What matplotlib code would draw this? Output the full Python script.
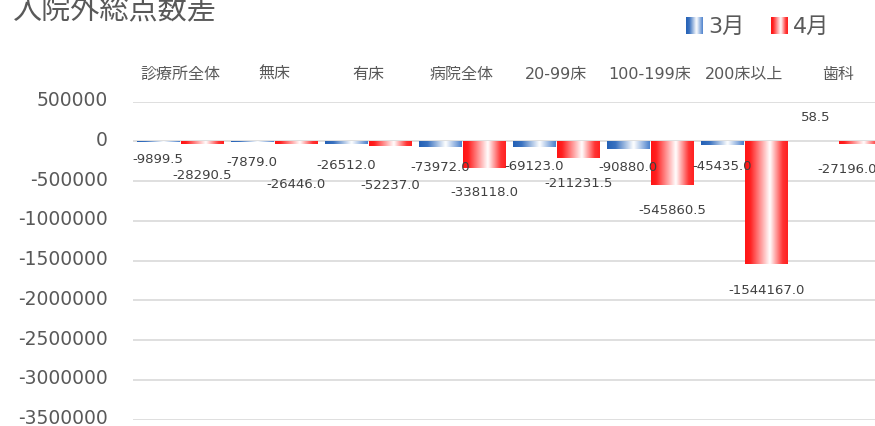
import numpy as np
import matplotlib.pyplot as plt
import matplotlib.transforms as mtransforms
from matplotlib.colors import LinearSegmentedColormap

plt.rcParams['font.family'] = ['DejaVu Sans', 'Noto Sans CJK JP']

categories = ['診療所全体', '無床', '有床', '病院全体', '20-99床', '100-199床', '200床以上', '歯科']
march = [-9899.5, -7879.0, -26512.0, -73972.0, -69123.0, -90880.0, -45435.0, 58.5]
april = [-28290.5, -26446.0, -52237.0, -338118.0, -211231.5, -545860.5, -1544167.0, -27196.0]
series_names = ['3月', '4月']
yticks = np.arange(-3500000, 500001, 500000)

# distance of each value label from its bar end, in points (negative = above)
march_offsets = [12, 14, 15, 14, 13.5, 12.5, 15, -18]
april_offsets = [22, 29, 28, 17, 17.5, 18, 18, 18]
# sideways nudge (points) so the last label stays inside the chart
april_xshift = [0, 0, 0, 0, 0, 0, 0, -9]

text_color = '#595959'

# horizontal colour -> white -> colour fills for the bars
blue_cmap = LinearSegmentedColormap.from_list(
    'blue_grad', [(0, '#2360b5'), (0.2, '#3a72c0'), (0.62, '#ffffff'), (1, '#4a80cc')])
red_cmap = LinearSegmentedColormap.from_list(
    'red_grad', [(0, '#ff1414'), (0.12, '#ff2020'), (0.58, '#ffffff'), (0.88, '#ff3434'), (1, '#ff2020')])
grad = np.linspace(0, 1, 256).reshape(1, -1)

fig = plt.figure(figsize=(8.75, 4.27), dpi=100)
ax = fig.add_axes([133 / 875, 1 - 420.7 / 427, 752 / 875, 318 / 427])

x = np.arange(len(categories))
width = 0.447
shift = 0.235


def gradient_bars(xpos, vals, cmap):
    bars = ax.bar(xpos, vals, width, color='none', linewidth=0, zorder=3)
    for rect in bars:
        x0, y0 = rect.get_x(), rect.get_y()
        im = ax.imshow(grad, cmap=cmap, extent=(x0, x0 + rect.get_width(), y0, y0 + rect.get_height()),
                       aspect='auto', interpolation='bicubic', zorder=3)
        im.set_clip_path(rect)
    return bars


gradient_bars(x - shift, march, blue_cmap)
gradient_bars(x + shift, april, red_cmap)

# value labels under (or over) the bar ends
for xpos, vals, offs, dx in ((x - shift, march, march_offsets, [0] * len(march)),
                             (x + shift, april, april_offsets, april_xshift)):
    for xi, v, off, d in zip(xpos, vals, offs, dx):
        ax.annotate('%.1f' % v, xy=(xi, v), xytext=(d, -off), textcoords='offset points',
                    ha='center', va='center', fontsize=9.5, color='#404040', zorder=4,
                    annotation_clip=False)

ax.set_xlim(-0.5, len(categories) - 0.5)
ax.set_ylim(yticks[0], yticks[-1])
ax.set_yticks(yticks)
ax.set_yticklabels(['%d' % t for t in yticks])
ax.set_xticks(x)
ax.set_xticklabels(categories)
ax.xaxis.tick_top()
ax.tick_params(axis='x', length=0, pad=15, labelsize=11.5, labelcolor=text_color)
ax.tick_params(axis='y', length=0, pad=18, labelsize=13.5, labelcolor=text_color)

# axis numbers sit a little above their gridlines
lift = mtransforms.ScaledTranslation(0, 4 / 100, fig.dpi_scale_trans)
for lbl in ax.get_yticklabels():
    lbl.set_transform(lbl.get_transform() + lift)

ax.grid(axis='y', color='#d9d9d9', linewidth=1.2, zorder=0)
ax.set_axisbelow(True)
for s in ax.spines.values():
    s.set_visible(False)

fig.text(13 / 875, 1 - 11 / 427, '入院外総点数差', fontsize=21, color=text_color, ha='left', va='center')

# legend with the same gradient swatches
for px, cmap, name in ((686, blue_cmap, series_names[0]), (771, red_cmap, series_names[1])):
    lax = fig.add_axes([px / 875, 1 - 35 / 427, 17 / 875, 17 / 427])
    lax.imshow(grad, cmap=cmap, aspect='auto', interpolation='bicubic')
    lax.axis('off')
    fig.text((px + 22) / 875, 1 - 26.5 / 427, name, fontsize=16, color=text_color, ha='left', va='center')

fig.savefig('out.png', dpi=100)
